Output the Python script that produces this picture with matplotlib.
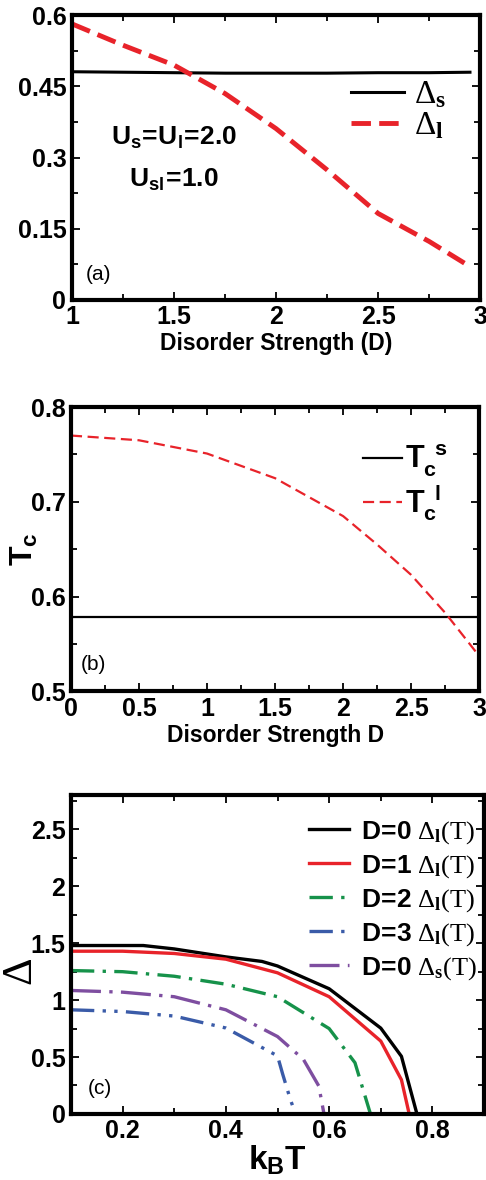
import matplotlib
matplotlib.use('Agg')
import matplotlib.pyplot as plt
from matplotlib.ticker import AutoMinorLocator

plt.rcParams['font.family'] = ['Liberation Sans', 'DejaVu Sans']
plt.rcParams['font.weight'] = 'bold'
plt.rcParams['axes.labelweight'] = 'bold'
plt.rcParams['mathtext.fontset'] = 'custom'
plt.rcParams['mathtext.rm'] = 'Liberation Serif:weight=normal'
plt.rcParams['mathtext.bf'] = 'Liberation Serif:weight=bold'
plt.rcParams['mathtext.sf'] = 'Liberation Sans:weight=bold'
plt.rcParams['mathtext.it'] = 'Liberation Serif:style=italic:weight=normal'

# panel (a): gap vs disorder
D_a = [1.0, 1.25, 1.5, 1.75, 2.0, 2.25, 2.5, 2.75, 2.95]
gap_s = [0.481, 0.480, 0.479, 0.478, 0.478, 0.478, 0.479, 0.479, 0.480]
gap_l = [0.582, 0.537, 0.495, 0.435, 0.361, 0.274, 0.182, 0.123, 0.070]

# panel (b): Tc vs disorder
D_b = [0.0, 0.5, 1.0, 1.5, 2.0, 2.25, 2.5, 2.75, 2.98]
tc_s = [0.579] * len(D_b)
tc_l = [0.770, 0.765, 0.751, 0.725, 0.685, 0.655, 0.623, 0.583, 0.541]

# panel (c): gap vs temperature
T_d0 = [0.10, 0.24, 0.30, 0.40, 0.47, 0.50, 0.60, 0.70, 0.74, 0.77]
g_d0 = [1.48, 1.48, 1.45, 1.38, 1.34, 1.30, 1.10, 0.754, 0.506, 0.0]
T_d1 = [0.10, 0.20, 0.30, 0.40, 0.50, 0.60, 0.70, 0.74, 0.755]
g_d1 = [1.43, 1.43, 1.41, 1.36, 1.24, 1.03, 0.64, 0.30, 0.0]
T_d2 = [0.10, 0.20, 0.30, 0.40, 0.50, 0.60, 0.65, 0.68]
g_d2 = [1.26, 1.25, 1.21, 1.14, 1.03, 0.75, 0.45, 0.0]
T_d3 = [0.10, 0.20, 0.30, 0.40, 0.50, 0.51, 0.525, 0.535]
g_d3 = [0.915, 0.90, 0.86, 0.755, 0.51, 0.35, 0.125, 0.0]
T_s0 = [0.10, 0.20, 0.30, 0.40, 0.50, 0.55, 0.58, 0.59]
g_s0 = [1.085, 1.07, 1.03, 0.915, 0.68, 0.48, 0.245, 0.0]

fig = plt.figure(figsize=(4.86, 11.8), dpi=100)
ax1 = fig.add_axes([0.148, 0.746, 0.840, 0.241])
ax2 = fig.add_axes([0.146, 0.414, 0.840, 0.241])
ax3 = fig.add_axes([0.146, 0.056, 0.850, 0.270])


def style(ax):
    for sp in ax.spines.values():
        sp.set_linewidth(3)
    ax.tick_params(which='both', direction='in', top=True, right=True, width=1.3)
    ax.tick_params(which='major', length=6, labelsize=18, pad=4)
    ax.tick_params(which='minor', length=4)
    ax.xaxis.set_minor_locator(AutoMinorLocator(2))
    ax.yaxis.set_minor_locator(AutoMinorLocator(2))


# (a)
ax1.plot(D_a, gap_s, color='black', lw=2.2, label=r'$\Delta_\mathbf{s}$')
ax1.plot(D_a, gap_l, color='#e8232a', lw=3.5, dashes=(4, 1.7), label=r'$\Delta_\mathbf{l}$')
ax1.set_xlim(1, 3)
ax1.set_ylim(0, 0.6)
ax1.set_yticks([0, 0.15, 0.3, 0.45, 0.6], ['0', '0.15', '0.3', '0.45', '0.6'])
ax1.set_xticks([1, 1.5, 2, 2.5, 3], ['1', '1.5', '2', '2.5', '3'])
style(ax1)
ax1.set_xlabel('Disorder Strength (D)', fontsize=16.5, labelpad=2)
ax1.legend(loc='upper right', bbox_to_anchor=(0.99, 0.88), frameon=False, fontsize=24,
           handlelength=1.6, handletextpad=0.3, labelspacing=0.0)
ax1.text(0.25, 0.57, r'$\mathsf{U_s\!=\!U_l\!=\!2.0}$', transform=ax1.transAxes,
         fontsize=19, ha='center', va='center')
ax1.text(0.25, 0.42, r'$\mathsf{U_{sl}\!=\!1.0}$', transform=ax1.transAxes,
         fontsize=19, ha='center', va='center')
ax1.text(0.035, 0.09, '(a)', transform=ax1.transAxes, fontsize=15, fontweight='normal',
         va='center')

# (b)
ax2.plot(D_b, tc_s, color='black', lw=1.6, label=r'$\mathsf{T_c^{\ \ s}}$')
ax2.plot(D_b, tc_l, color='#e8232a', lw=1.6, dashes=(5, 2.5), label=r'$\mathsf{T_c^{\ \ l}}$')
ax2.set_xlim(0, 3)
ax2.set_ylim(0.5, 0.8)
ax2.set_xticks([0, 0.5, 1, 1.5, 2, 2.5, 3], ['0', '0.5', '1', '1.5', '2', '2.5', '3'])
ax2.set_yticks([0.5, 0.6, 0.7, 0.8], ['0.5', '0.6', '0.7', '0.8'])
style(ax2)
ax2.set_xlabel('Disorder Strength D', fontsize=16.5, labelpad=2)
ax2.set_ylabel(r'$\mathsf{T_c}$', fontsize=23)
ax2.yaxis.set_label_coords(-0.076, 0.5)
ax2.legend(loc='upper right', bbox_to_anchor=(0.99, 0.97), frameon=False, fontsize=22,
           handlelength=1.3, handletextpad=0.1, labelspacing=0.1)
ax2.text(0.025, 0.095, '(b)', transform=ax2.transAxes, fontsize=15, fontweight='normal',
         va='center')

# (c)
ax3.plot(T_d0, g_d0, color='black', lw=2.4, label=r'$\mathsf{D\!=\!0}\ \Delta_\mathbf{l}(\mathrm{T})$')
ax3.plot(T_d1, g_d1, color='#e8232a', lw=2.4, label=r'$\mathsf{D\!=\!1}\ \Delta_\mathbf{l}(\mathrm{T})$')
ax3.plot(T_d2, g_d2, color='#16924a', lw=2.4, dashes=(7, 2.5, 1, 2.5),
         label=r'$\mathsf{D\!=\!2}\ \Delta_\mathbf{l}(\mathrm{T})$')
ax3.plot(T_d3, g_d3, color='#3a5ba8', lw=2.4, dashes=(7, 2.5, 1, 2.5, 1, 2.5),
         label=r'$\mathsf{D\!=\!3}\ \Delta_\mathbf{l}(\mathrm{T})$')
ax3.plot(T_s0, g_s0, color='#7e4ea0', lw=2.4, dashes=(9, 2.5, 1, 2.5),
         label=r'$\mathsf{D\!=\!0}\ \Delta_\mathbf{s}(\mathrm{T})$')
ax3.set_xlim(0.1, 0.9)
ax3.set_ylim(0, 2.8)
ax3.set_xticks([0.2, 0.4, 0.6, 0.8], ['0.2', '0.4', '0.6', '0.8'])
ax3.set_yticks([0, 0.5, 1, 1.5, 2, 2.5], ['0', '0.5', '1', '1.5', '2', '2.5'])
style(ax3)
ax3.set_xlabel(r'$\mathsf{k_BT}$', fontsize=24, labelpad=0)
ax3.set_ylabel(r'$\Delta$', fontsize=31)
ax3.yaxis.set_label_coords(-0.072, 0.445)
ax3.legend(loc='upper right', bbox_to_anchor=(1.04, 1.0), frameon=False, fontsize=19,
           handlelength=1.5, handletextpad=0.45, labelspacing=0.27)
ax3.text(0.04, 0.08, '(c)', transform=ax3.transAxes, fontsize=15, fontweight='normal',
         va='center')

fig.savefig('out.png', dpi=100)
